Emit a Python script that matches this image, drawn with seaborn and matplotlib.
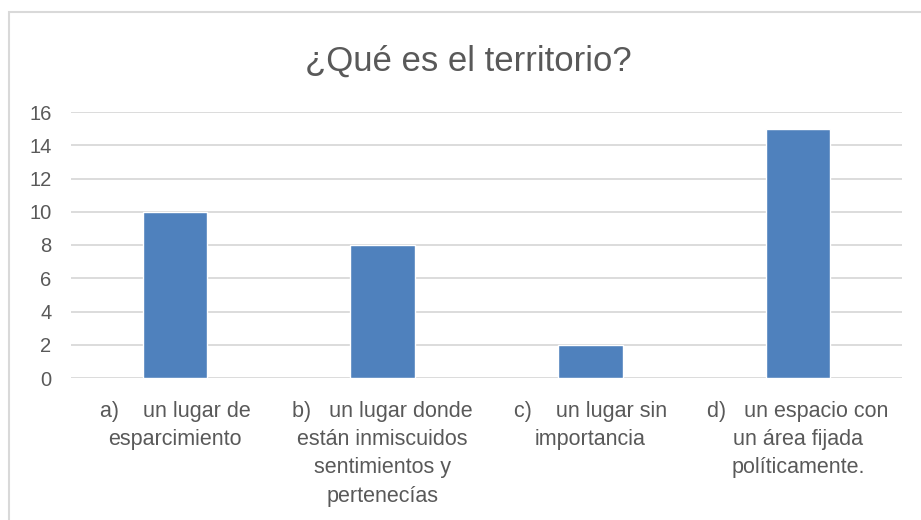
import matplotlib
matplotlib.use("Agg")
import matplotlib.pyplot as plt
import seaborn as sns
import pandas as pd
from matplotlib.patches import Rectangle

categories = [
    "a)    un lugar de\nesparcimiento",
    "b)   un lugar donde\nestán inmiscuidos\nsentimientos y\npertenecías",
    "c)    un lugar sin\nimportancia",
    "d)   un espacio con\nun área fijada\npolíticamente.",
]
values = [10, 8, 2, 15]
yticks = [0, 2, 4, 6, 8, 10, 12, 14, 16]

df = pd.DataFrame({"categoria": categories, "valor": values})

sns.set_style("white")
plt.rcParams["font.family"] = ["Liberation Sans", "DejaVu Sans"]

fig = plt.figure(figsize=(9.21, 5.2), dpi=100)
ax = fig.add_axes([71 / 921, 1 - 378 / 520, (902 - 71) / 921, (378 - 112) / 520])

sns.barplot(data=df, x="categoria", y="valor", color="#4f81bd", width=0.31,
            saturation=1, ax=ax, zorder=3)

ax.set_ylim(0, 16)
ax.set_yticks(yticks)
ax.set_xlim(-0.5, 3.5)
ax.yaxis.grid(True, color="#d9d9d9", linewidth=1.3, zorder=0)
ax.set_axisbelow(True)
for s in ax.spines.values():
    s.set_visible(False)
ax.tick_params(axis="both", length=0, colors="#595959", labelsize=14.5)
ax.tick_params(axis="y", pad=14)
ax.set_xticks(range(len(categories)))
ax.set_xticklabels([])
ax.set_xlabel("")
ax.set_ylabel("")

# category labels, wrapped like the original
for i, txt in enumerate(categories):
    ax.text(i, -0.085, txt, transform=ax.get_xaxis_transform(), ha="center",
            va="top", multialignment="center", fontsize=15.5, color="#595959",
            linespacing=1.46)

fig.text(0.508, 0.882, "¿Qué es el territorio?", ha="center", va="center",
         fontsize=25, color="#595959")

# chart border
fig.patches.append(Rectangle((9 / 921, -0.1), 1.2, 1 - 12 / 520 + 0.1,
                             transform=fig.transFigure, fill=False,
                             edgecolor="#d9d9d9", linewidth=1.5))

fig.savefig("out.png", dpi=100)
plt.close(fig)
